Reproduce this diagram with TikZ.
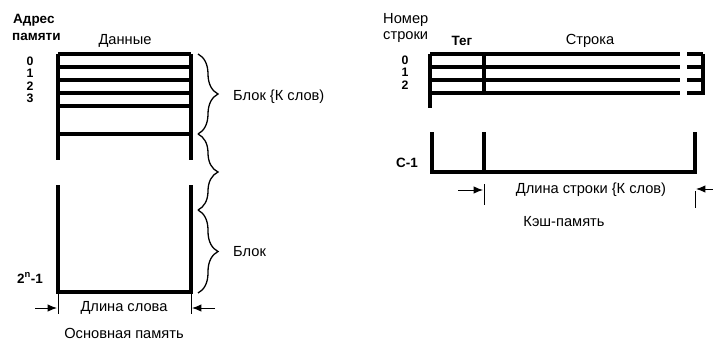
\documentclass[tikz,border=0pt]{standalone}
\usepackage{fontspec}
\setmainfont{Liberation Sans}
\usetikzlibrary{positioning, arrows.meta, decorations.pathreplacing}

\begin{document}
\begin{tikzpicture}[
  x=0.03cm, y=-0.03cm, >=Latex,
  lbl/.style={inner sep=0pt, font=\fontsize{12.5}{14}\selectfont},
  hdr/.style={inner sep=0pt, font=\fontsize{11.5}{13}\selectfont\bfseries},
  num/.style={inner sep=0pt, font=\fontsize{10.5}{11}\selectfont\bfseries},
  wall/.style={line width=2.6pt},
  ext/.style={line width=0.8pt},
  dim/.style={-{Latex[length=2.8mm, width=2.2mm]}, line width=0.8pt},
  brc/.style={decorate, decoration={brace, amplitude=6mm, aspect=0.5},
              line width=1.1pt},
]
\useasboundingbox (0,0) rectangle (713,340);

% --- main memory ---
\foreach \y in {54,67,80,93,106,134}
  \draw[wall] (58,\y) -- (191,\y);
\draw[wall] (58,54) -- (58,160);
\draw[wall] (191,54) -- (191,160);
\draw[wall] (58,185) -- (58,292) -- (191,292) -- (191,185);
\draw[ext] (58,292) -- (58,314);
\draw[ext] (191,292) -- (191,314);

\node[hdr, anchor=west] (adr) at (13,20) {Адрес};
\node[hdr, anchor=west] (adr2) at (12,37) {памяти};
\node[lbl] (data) at (125,41) {Данные};
\node[num] (a0) at (30,61) {0};
\node[num] (a1) at (30,73) {1};
\node[num] (a2) at (30,86) {2};
\node[num] (a3) at (30,98) {3};
\node[hdr] (aN) at (30,278) {2\textsuperscript{n}-1};

% --- blocks ---
\coordinate (b0) at (198,54);
\coordinate (b1) at (198,134);
\coordinate (b2) at (198,210);
\coordinate (b3) at (198,293);
\draw[brc] (b0) -- (b1);
\draw[brc] (b1) -- (b2);
\draw[brc] (b2) -- (b3);
\node[lbl, anchor=west] (blkK) at (233,97) {Блок \{К слов)};
\node[lbl, anchor=west] (blk) at (233,252) {Блок};

% --- word length ---
\node[lbl] (wlen) at (124,308) {Длина слова};
\node[lbl] (mname) at (124,333) {Основная память};
\coordinate (wlA) at (35,308);
\coordinate (wlB) at (57,308);
\coordinate (wrA) at (215,308);
\coordinate (wrB) at (192,308);
\draw[dim] (wlA) -- (wlB);
\draw[dim] (wrA) -- (wrB);

% --- cache lines ---
\foreach \y in {54,67,80,93} {
  \draw[wall] (430,\y) -- (680,\y);
  \draw[wall] (687,\y) -- (703,\y);
}
\draw[wall] (430,54) -- (430,108);
\draw[wall] (484,54) -- (484,93);
\draw[wall] (703,54) -- (703,95);
\draw[wall] (432,132) -- (432,172) -- (695,172) -- (695,132);
\draw[wall] (484,132) -- (484,172);
\draw[ext] (484,184) -- (484,205);
\draw[ext] (695,191) -- (695,208);

\node[lbl, anchor=west] (row) at (383,20) {Номер};
\node[lbl, anchor=west] (row2) at (383,37) {строки};
\node[hdr] (tag) at (462,41) {Тег};
\node[lbl] (line) at (590,41) {Строка};
\node[num] (c0) at (405,60) {0};
\node[num] (c1) at (405,72) {1};
\node[num] (c2) at (405,85) {2};
\node[hdr] (cN) at (407,163) {С-1};

% --- line length ---
\node[lbl] (llen) at (591,190) {Длина строки \{К слов)};
\node[lbl] (cname) at (564,222) {Кэш-память};
\coordinate (llA) at (458,190);
\coordinate (llB) at (483,190);
\coordinate (lrA) at (715,189);
\coordinate (lrB) at (696,189);
\draw[dim] (llA) -- (llB);
\draw[dim] (lrA) -- (lrB);
\end{tikzpicture}
\end{document}
